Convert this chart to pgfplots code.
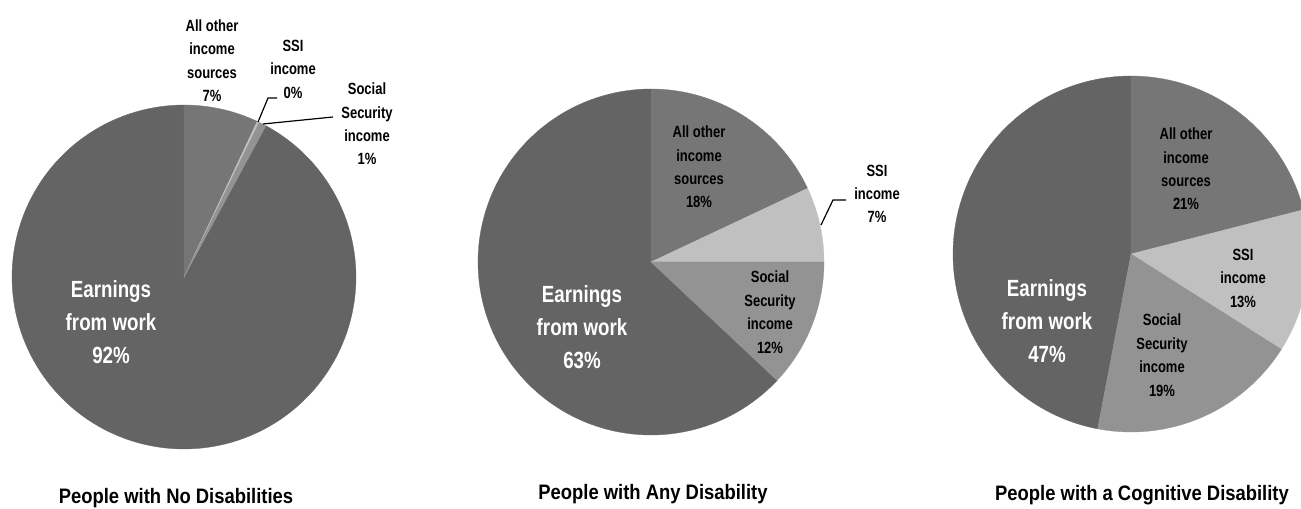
\documentclass[border=0pt]{standalone}
\usepackage{fontspec}
\setmainfont{Liberation Sans}[FakeStretch=0.8]
\newfontfamily\titlefont{Liberation Sans}[FakeStretch=0.88]
\usepackage{pgfplots}
\pgfplotsset{compat=1.18}
\definecolor{cEarn}{HTML}{636463}
\definecolor{cOther}{HTML}{767676}
\definecolor{cSSI}{HTML}{C0C0C0}
\definecolor{cSS}{HTML}{939393}
% #1 cx, #2 cy, #3 radius, #4 cumulative % at start, #5 cumulative % at end, #6 colour
\newcommand{\pieslice}[6]{%
  \pgfmathsetmacro\slA{90-3.6*(#5)}%
  \pgfmathsetmacro\slB{90-3.6*(#4)}%
  \addplot[fill=#6, draw=#6, line width=0.3pt, domain=\slA:\slB, samples=160,
    variable=\t, forget plot]
    ({#1+#3*cos(\t)},{#2+#3*sin(\t)}) -- (axis cs:#1,#2) -- cycle;}
\tikzset{lab/.style={inner sep=0pt, align=center, anchor=base,
    font=\fontsize{16.3}{23.5}\selectfont\bfseries},
  big/.style={inner sep=0pt, align=center, anchor=base, text=white,
    font=\fontsize{23.5}{33}\selectfont\bfseries},
  ttl/.style={inner sep=0pt, anchor=base,
    font=\titlefont\bfseries\fontsize{21}{25}\selectfont}}
\begin{document}
\begin{tikzpicture}
\begin{axis}[name=ax, at={(0,0)}, anchor=south west,
  width=1301bp, height=508bp, scale only axis,
  xmin=0, xmax=1301, ymin=0, ymax=508, hide axis, clip=true]
% ---- Pie 1: People with No Disabilities (others 7, SSI 0.2, SS 0.7, earnings 92.1)
\pieslice{184}{231}{172}{7.9}{100}{cEarn}
\pieslice{184}{231}{172}{0}{7.0}{cOther}
\pieslice{184}{231}{172}{7.0}{7.2}{cSSI}
\pieslice{184}{231}{172}{7.2}{7.9}{cSS}
% ---- Pie 2: People with Any Disability (18, 7, 12, 63)
\pieslice{651}{246}{173}{37}{100}{cEarn}
\pieslice{651}{246}{173}{0}{18}{cOther}
\pieslice{651}{246}{173}{18}{25}{cSSI}
\pieslice{651}{246}{173}{25}{37}{cSS}
% ---- Pie 3: People with a Cognitive Disability (21, 13, 19, 47)
\pieslice{1131}{254}{178}{53}{100}{cEarn}
\pieslice{1131}{254}{178}{0}{21}{cOther}
\pieslice{1131}{254}{178}{21}{34}{cSSI}
\pieslice{1131}{254}{178}{34}{53}{cSS}
% ---- labels pie 1 (anchor = baseline of last line)
\node[lab] at (axis cs:212,406.3) {All other\\income\\sources\\7\%};
\node[lab] at (axis cs:293,409.7) {SSI\\income\\0\%};
\node[lab] at (axis cs:367,343) {Social\\Security\\income\\1\%};
\node[big] at (axis cs:111,145) {Earnings\\from work\\92\%};
\draw[black, line width=1.2pt] (axis cs:277,410) -- (axis cs:268,410) -- (axis cs:258,386);
\draw[black, line width=1.2pt] (axis cs:333,391) -- (axis cs:263,384);
% ---- labels pie 2
\node[lab] at (axis cs:699,300) {All other\\income\\sources\\18\%};
\node[lab] at (axis cs:877,285) {SSI\\income\\7\%};
\node[lab] at (axis cs:770,155) {Social\\Security\\income\\12\%};
\node[big] at (axis cs:582,140) {Earnings\\from work\\63\%};
\draw[black, line width=1.2pt] (axis cs:846,308) -- (axis cs:833,308) -- (axis cs:821,283);
% ---- labels pie 3
\node[lab] at (axis cs:1186,298) {All other\\income\\sources\\21\%};
\node[lab] at (axis cs:1243,201) {SSI\\income\\13\%};
\node[lab] at (axis cs:1162,112) {Social\\Security\\income\\19\%};
\node[big] at (axis cs:1047,146) {Earnings\\from work\\47\%};
% ---- titles
\node[ttl] at (axis cs:176,5) {People with No Disabilities};
\node[ttl] at (axis cs:653,9) {People with Any Disability};
\node[ttl] at (axis cs:1142,8) {People with a Cognitive Disability};
\end{axis}
\pgfresetboundingbox
\useasboundingbox (ax.south west) rectangle (ax.north east);
\end{tikzpicture}
\end{document}
